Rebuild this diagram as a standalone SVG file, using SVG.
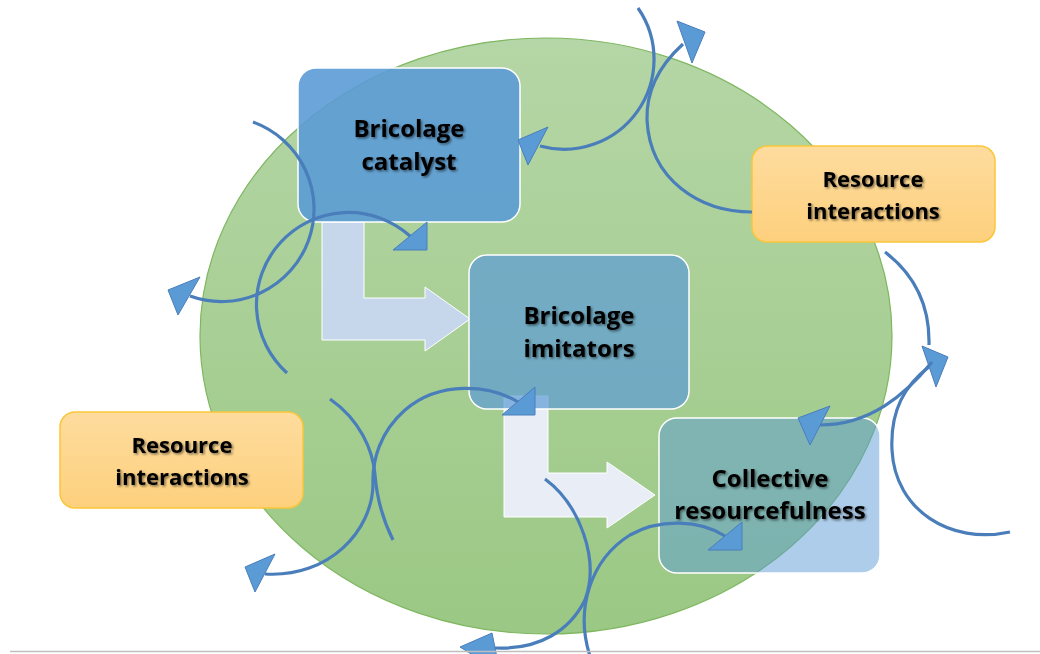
<svg xmlns="http://www.w3.org/2000/svg" width="1040" height="654" viewBox="0 0 1040 654">
<defs>
  <linearGradient id="gEll" x1="0" y1="0" x2="0" y2="1">
    <stop offset="0" stop-color="#b5d6a6"/>
    <stop offset="1" stop-color="#9bc884"/>
  </linearGradient>
  <linearGradient id="gOr" x1="0" y1="0" x2="0" y2="1">
    <stop offset="0" stop-color="#fedc9e"/>
    <stop offset="1" stop-color="#fdd07d"/>
  </linearGradient>
  <filter id="shadow" x="-10%" y="-20%" width="130%" height="150%">
    <feDropShadow dx="1.5" dy="1.5" stdDeviation="1" flood-color="#000" flood-opacity="0.5"/>
  </filter>
  <style>
    .lbl { font-family: "Open Sans", "Liberation Sans", sans-serif; font-weight: bold; fill: #000; text-anchor: middle; filter: url(#shadow); }
    .big { font-size: 24px; }
    .sm { font-size: 22px; }
    .box { fill: #5b9bd5; stroke: #ffffff; stroke-width: 1.5; }
    .orange { fill: url(#gOr); stroke: #fac63a; stroke-width: 1.5; }
    .fat { stroke: #ffffff; stroke-width: 1; }
    .arc { fill: none; stroke: #4a7ebb; stroke-width: 3.2; stroke-linecap: butt; }
    .head { fill: #5b9bd5; stroke: #4a7ebb; stroke-width: 1; stroke-linejoin: miter; }
  </style>
</defs>

<rect width="1040" height="654" fill="#ffffff"/>

<g id="circle">
  <ellipse cx="546" cy="336" rx="346" ry="298" fill="url(#gEll)" stroke="#7fb761" stroke-width="1.2"/>
</g>

<g id="flow-arrows">
  <polygon class="fat" fill="#c6d6eb" points="322,222 364,222 364,298 425,298 425,287 470,319 425,351 425,340 322,340"/>
  <polygon class="fat" fill="#e9eef6" points="504,396 548,396 548,473 607,473 607,462 655,495 607,528 607,517 504,517"/>
</g>

<g id="bricolage-catalyst">
  <rect class="box" x="298" y="68" width="222" height="154" rx="18" fill-opacity="0.9"/>
  <text class="lbl big" x="409" y="137">Bricolage</text>
  <text class="lbl big" x="409" y="170">catalyst</text>
</g>

<g id="bricolage-imitators">
  <rect class="box" x="469" y="255" width="220" height="154" rx="18" fill-opacity="0.7"/>
  <text class="lbl big" x="579" y="324">Bricolage</text>
  <text class="lbl big" x="579" y="357">imitators</text>
</g>

<g id="collective-resourcefulness">
  <rect class="box" x="659" y="418" width="221" height="155" rx="18" fill-opacity="0.5"/>
  <text class="lbl big" x="770" y="487">Collective</text>
  <text class="lbl big" x="770" y="519">resourcefulness</text>
</g>

<g id="resource-interactions-right">
  <rect class="orange" x="752" y="146" width="243" height="96" rx="15"/>
  <text class="lbl sm" x="873" y="187">Resource</text>
  <text class="lbl sm" x="873" y="219">interactions</text>
</g>

<g id="resource-interactions-left">
  <rect class="orange" x="60" y="412" width="243" height="96" rx="15"/>
  <text class="lbl sm" x="182" y="453">Resource</text>
  <text class="lbl sm" x="182" y="485">interactions</text>
</g>

<g id="connectors">
  <!-- top-left -->
  <path class="arc" d="M253,122 A90,90 0 0 1 190,296"/>
  <polygon class="head" points="200,277 168,290 178,315"/>
  <path class="arc" d="M287,373 A91,91 0 0 1 410,236"/>
  <polygon class="head" points="427,222 427,250 393,250"/>
  <!-- top-right -->
  <path class="arc" d="M638,8 A90,90 0 0 1 540,146"/>
  <polygon class="head" points="548,127 518,140 528,165"/>
  <path class="arc" d="M752,212 C700,212 650,180 647,120 C646,90 660,65 683,44"/>
  <polygon class="head" points="677,21 705,32 692,63"/>
  <!-- right -->
  <path class="arc" d="M885,252 C915,275 930,305 929,345"/>
  <path class="arc" d="M1010,532 C950,545 895,510 892,450 C890,410 905,385 930,366"/>
  <polygon class="head" points="922,346 948,357 936,387"/>
  <path class="arc" d="M932,362 C905,395 870,425 820,425"/>
  <polygon class="head" points="830,406 798,418 810,445"/>
  <!-- bottom-left -->
  <path class="arc" d="M330,399 C360,420 373,450 375,475 C377,500 383,520 393,540"/>
  <path class="arc" d="M518,402 C490,385 440,380 405,410 C380,432 372,460 373,485 C372,530 330,578 265,574"/>
  <polygon class="head" points="535,387 535,415 502,415"/>
  <polygon class="head" points="275,554 245,567 255,592"/>
  <!-- bottom -->
  <path class="arc" d="M545,479 C580,505 600,560 585,600 C570,630 540,650 495,648"/>
  <polygon class="head" points="492,633 460,647 500,672"/>
  <path class="arc" d="M590,656 C575,610 590,560 630,535 C660,518 700,520 725,536"/>
  <polygon class="head" points="742,522 742,550 708,550"/>
</g>

<line x1="10" y1="651.5" x2="1040" y2="651.5" stroke="#bfbfbf" stroke-width="1.5"/>
</svg>
